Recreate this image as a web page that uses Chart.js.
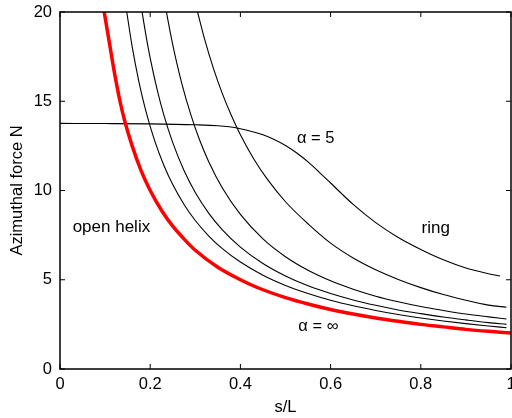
<!DOCTYPE html>
<html>
<head>
<meta charset="utf-8">
<script src="https://cdn.jsdelivr.net/npm/chart.js@4.4.0/dist/chart.umd.min.js"></script>
<style>
  body { margin: 0; background: #fff; }
  #wrap { width: 512px; height: 418px; }
</style>
</head>
<body>
<div id="wrap"><canvas id="myChart" width="512" height="418"></canvas></div>
<script>
// values (s/L, N)
const redX = [0.098, 0.11, 0.12, 0.133, 0.144, 0.16, 0.18, 0.2, 0.226, 0.25, 0.28, 0.3, 0.35, 0.4, 0.436, 0.5, 0.55, 0.6, 0.65, 0.7, 0.75, 0.8, 0.85, 0.9, 0.95, 1.0];
const redY = [20, 18.2, 16.7, 15.0, 13.85, 12.5, 11.1, 10.0, 8.85, 8.0, 7.15, 6.65, 5.7, 5.0, 4.58, 4.0, 3.64, 3.33, 3.08, 2.86, 2.67, 2.5, 2.36, 2.22, 2.11, 2.02];

const b1X = [0.148, 0.16, 0.175, 0.19, 0.21, 0.23, 0.25, 0.275, 0.3, 0.33, 0.36, 0.4, 0.45, 0.5, 0.55, 0.6, 0.65, 0.7, 0.75, 0.8, 0.85, 0.9, 0.95, 0.99];
const b1Y = [20, 18.06, 16.09, 14.49, 12.78, 11.43, 10.33, 9.22, 8.32, 7.45, 6.74, 5.99, 5.25, 4.68, 4.23, 3.85, 3.54, 3.28, 3.05, 2.86, 2.69, 2.54, 2.41, 2.31];

const b2X = [0.182, 0.19, 0.2, 0.215, 0.23, 0.25, 0.275, 0.3, 0.33, 0.36, 0.4, 0.45, 0.5, 0.55, 0.6, 0.65, 0.7, 0.75, 0.8, 0.85, 0.9, 0.95, 0.99];
const b2Y = [20, 18.77, 17.41, 15.69, 14.25, 12.68, 11.12, 9.89, 8.72, 7.8, 6.83, 5.91, 5.21, 4.66, 4.23, 3.87, 3.57, 3.31, 3.1, 2.91, 2.75, 2.6, 2.5];

const b3X = [0.236, 0.245, 0.255, 0.27, 0.29, 0.31, 0.33, 0.36, 0.4, 0.45, 0.5, 0.55, 0.6, 0.65, 0.7, 0.75, 0.8, 0.85, 0.9, 0.95, 0.99];
const b3Y = [20, 18.79, 17.58, 16.0, 14.25, 12.8, 11.6, 10.14, 8.66, 7.29, 6.29, 5.53, 4.94, 4.47, 4.08, 3.77, 3.5, 3.28, 3.08, 2.92, 2.8];

const b4X = [0.305, 0.32, 0.34, 0.36, 0.38, 0.4, 0.43, 0.46, 0.5, 0.55, 0.6, 0.65, 0.7, 0.75, 0.8, 0.85, 0.9, 0.95, 0.99];
const b4Y = [20, 18.54, 16.86, 15.43, 14.2, 13.12, 11.75, 10.62, 9.37, 8.13, 7.05, 6.22, 5.56, 5.02, 4.56, 4.17, 3.85, 3.58, 3.46];

// alpha = 5 curve, flat at first then dropping
const a5X = [0, 0.1, 0.2, 0.3, 0.35, 0.375, 0.4, 0.425, 0.45, 0.475, 0.5, 0.525, 0.55, 0.575, 0.6, 0.65, 0.7, 0.75, 0.8, 0.85, 0.9, 0.95, 0.976];
const a5Y = [13.76, 13.75, 13.73, 13.68, 13.63, 13.57, 13.46, 13.31, 13.12, 12.86, 12.52, 12.1, 11.6, 11.02, 10.42, 9.22, 8.2, 7.37, 6.7, 6.12, 5.66, 5.34, 5.21];

const xTicks = [0, 0.2, 0.4, 0.6, 0.8, 1];
const yTicks = [0, 5, 10, 15, 20];

// text notes inside the plot, in data units
const noteText = ['open helix', 'ring', 'α = 5', 'α = ∞'];
const noteX = [0.114, 0.833, 0.567, 0.573];
const noteY = [7.96, 7.9, 12.94, 2.41];

function pts(xs, ys) {
  return xs.map((v, i) => ({ x: v, y: ys[i] }));
}

function line(xs, ys, color, width) {
  return {
    data: pts(xs, ys),
    borderColor: color,
    borderWidth: width,
    showLine: true,
    fill: false,
    pointRadius: 0,
    cubicInterpolationMode: 'monotone',
  };
}

const fontFamily = "'Liberation Sans', Arial, Helvetica, sans-serif";
Chart.defaults.font.family = fontFamily;
Chart.defaults.color = '#000';

// box round the plot, inward ticks on all four sides, and the notes
const frameAndTicks = {
  id: 'frameAndTicks',
  afterDatasetsDraw(chart) {
    const { ctx, chartArea: a, scales: { x, y } } = chart;
    ctx.save();
    ctx.strokeStyle = '#000';
    ctx.lineWidth = 1.5;
    ctx.strokeRect(a.left, a.top, a.right - a.left, a.bottom - a.top);
    ctx.lineWidth = 1;
    ctx.beginPath();
    xTicks.forEach(t => {
      const px = x.getPixelForValue(t);
      ctx.moveTo(px, a.bottom); ctx.lineTo(px, a.bottom - 5);
      ctx.moveTo(px, a.top); ctx.lineTo(px, a.top + 5);
    });
    yTicks.forEach(t => {
      const py = y.getPixelForValue(t);
      ctx.moveTo(a.left, py); ctx.lineTo(a.left + 5, py);
      ctx.moveTo(a.right, py); ctx.lineTo(a.right - 5, py);
    });
    ctx.stroke();

    ctx.fillStyle = '#000';
    ctx.textAlign = 'center';
    ctx.textBaseline = 'middle';
    noteText.forEach((t, i) => {
      ctx.font = (i < 2 ? '17px ' : '16.5px ') + fontFamily;
      ctx.fillText(t, x.getPixelForValue(noteX[i]), y.getPixelForValue(noteY[i]));
    });
    ctx.restore();
  }
};

const ctx = document.getElementById('myChart').getContext('2d');
new Chart(ctx, {
  type: 'scatter',
  data: {
    datasets: [
      line(redX, redY, 'rgb(255, 0, 0)', 3.5),
      line(b1X, b1Y, '#000', 1.1),
      line(b2X, b2Y, '#000', 1.1),
      line(b3X, b3Y, '#000', 1.1),
      line(b4X, b4Y, '#000', 1.1),
      line(a5X, a5Y, '#000', 1.1),
    ],
  },
  options: {
    responsive: false,
    animation: false,
    layout: { padding: { top: 12, right: 1, left: 0, bottom: 0 }, autoPadding: false },
    plugins: { legend: { display: false }, tooltip: { enabled: false } },
    scales: {
      x: {
        type: 'linear',
        min: 0,
        max: 1,
        grid: { display: false, drawTicks: false },
        border: { display: false },
        afterBuildTicks: s => { s.ticks = xTicks.map(v => ({ value: v })); },
        ticks: { padding: 6, font: { size: 16.5 }, callback: v => String(v) },
        title: { display: true, text: 's/L', font: { size: 16.5 }, padding: { top: 0, bottom: 1 } },
        afterFit: s => { s.height = 49; s.paddingLeft = 0; s.paddingRight = 0; },
      },
      y: {
        type: 'linear',
        min: 0,
        max: 20,
        grid: { display: false, drawTicks: false },
        border: { display: false },
        afterBuildTicks: s => { s.ticks = yTicks.map(v => ({ value: v })); },
        ticks: { padding: 8, font: { size: 16.5 }, callback: v => String(v) },
        title: { display: true, text: 'Azimuthal force N', font: { size: 16.5 }, padding: { top: 8, bottom: 0 } },
        afterFit: s => { s.width = 60; s.paddingTop = 0; s.paddingBottom = 0; },
      },
    },
  },
  plugins: [frameAndTicks],
});
</script>
</body>
</html>
